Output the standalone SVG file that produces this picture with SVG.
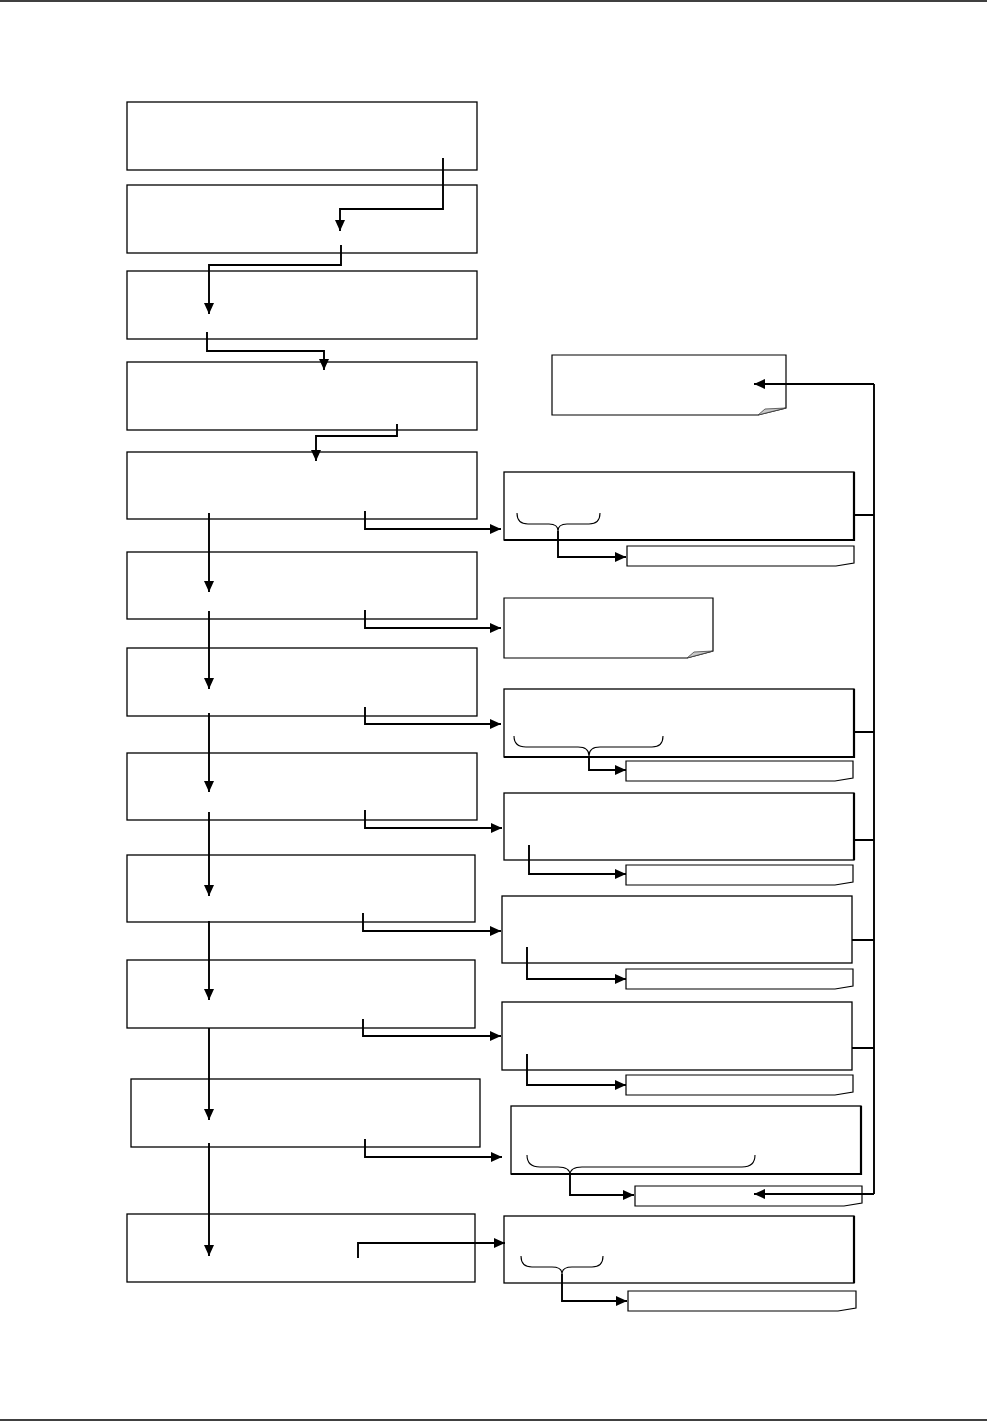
<svg xmlns="http://www.w3.org/2000/svg" width="1005" height="1422" viewBox="0 0 1005 1422">
<style>
.box{fill:#fff;stroke:#000;stroke-width:1.3}
.note{fill:#fff;stroke:#000;stroke-width:1.2}
.shadow{fill:none;stroke:#000;stroke-width:2.2}
.fold{fill:#c8c8c8;stroke:#444;stroke-width:0.8}
.brace{fill:none;stroke:#000;stroke-width:1.1}
.conn{fill:none;stroke:#000;stroke-width:1.9}
.page{stroke:#000;stroke-width:1.6}
</style>
<defs>
<marker id="ah" markerUnits="userSpaceOnUse" markerWidth="13" markerHeight="11" refX="11" refY="5" orient="auto">
<path d="M0,0 L11,5 L0,10 Z" fill="#000"/>
</marker>
</defs>
<line class="page" x1="0" y1="1" x2="987" y2="1"/>
<line class="page" x1="0" y1="1420" x2="987" y2="1420"/>

<g id="left-nodes">
<g id="L1"><rect class="box" x="127" y="102" width="350" height="68"/></g>
<g id="L2"><rect class="box" x="127" y="185" width="350" height="68"/></g>
<g id="L3"><rect class="box" x="127" y="271" width="350" height="68"/></g>
<g id="L4"><rect class="box" x="127" y="362" width="350" height="68"/></g>
<g id="L5"><rect class="box" x="127" y="452" width="350" height="67"/></g>
<g id="L6"><rect class="box" x="127" y="552" width="350" height="67"/></g>
<g id="L7"><rect class="box" x="127" y="648" width="350" height="68"/></g>
<g id="L8"><rect class="box" x="127" y="753" width="350" height="67"/></g>
<g id="L9"><rect class="box" x="127" y="855" width="348" height="67"/></g>
<g id="L10"><rect class="box" x="127" y="960" width="348" height="68"/></g>
<g id="L11"><rect class="box" x="131" y="1079" width="349" height="68"/></g>
<g id="L12"><rect class="box" x="127" y="1214" width="348" height="68"/></g>
</g>

<g id="right-nodes">
<g id="N1">
<path class="note" d="M552,355 H786 V408 L758,415 H552 Z"/>
<path class="fold" d="M758,415 L765,409 L786,408 Z"/>
</g>
<g id="R1"><rect class="box" x="504" y="472" width="350" height="68"/><path class="shadow" d="M854,472 V540 H504"/>
<path class="brace" d="M517,513 Q517,524 528,524 H549 Q558,524 558,531 Q558,524 567,524 H589 Q600,524 600,513"/></g>
<g id="S1"><path class="note" d="M627,546 H854 V563 L836,566 H627 Z"/></g>
<g id="N2">
<path class="note" d="M504,598 H713 V651 L687,658 H504 Z"/>
<path class="fold" d="M687,658 L694,652 L713,651 Z"/>
</g>
<g id="R3"><rect class="box" x="504" y="689" width="350" height="68"/><path class="shadow" d="M854,689 V757 H504"/>
<path class="brace" d="M514,736 Q514,747 526,747 H578 Q589,747 589,756 Q589,747 600,747 H652 Q663,747 663,736"/></g>
<g id="S3"><path class="note" d="M626,761 H853 V778 L835,781 H626 Z"/></g>
<g id="R4"><rect class="box" x="504" y="793" width="350" height="67"/><path class="shadow" d="M854,793 V860"/></g>
<g id="S4"><path class="note" d="M626,865 H853 V882 L835,885 H626 Z"/></g>
<g id="R5"><rect class="box" x="502" y="896" width="350" height="67"/></g>
<g id="S5"><path class="note" d="M626,969 H853 V986 L835,989 H626 Z"/></g>
<g id="R6"><rect class="box" x="502" y="1002" width="350" height="68"/></g>
<g id="S6"><path class="note" d="M626,1075 H853 V1092 L835,1095 H626 Z"/></g>
<g id="R7"><rect class="box" x="511" y="1106" width="350" height="68"/><path class="shadow" d="M861,1106 V1174 H511"/>
<path class="brace" d="M527,1155 Q527,1167 540,1167 H558 Q570,1167 570,1175 Q570,1167 582,1167 H742 Q755,1167 755,1155"/></g>
<g id="S7"><path class="note" d="M635,1186 H862 V1203 L844,1206 H635 Z"/></g>
<g id="R8"><rect class="box" x="504" y="1216" width="350" height="67"/><path class="shadow" d="M854,1216 V1283"/>
<path class="brace" d="M521,1256 Q521,1267 532,1267 H552 Q562,1267 562,1274 Q562,1267 572,1267 H592 Q603,1267 603,1256"/></g>
<g id="S8"><path class="note" d="M628,1291 H856 V1308 L838,1311 H628 Z"/></g>
</g>

<g id="connectors">
<path class="conn" marker-end="url(#ah)" d="M443,158 V209 H340 V231"/>
<path class="conn" marker-end="url(#ah)" d="M341,245 V265 H209 V314"/>
<path class="conn" marker-end="url(#ah)" d="M207,332 V351 H324 V370"/>
<path class="conn" marker-end="url(#ah)" d="M397,424 V436 H316 V461"/>
<path class="conn" marker-end="url(#ah)" d="M209,513 V592"/>
<path class="conn" marker-end="url(#ah)" d="M209,611 V689"/>
<path class="conn" marker-end="url(#ah)" d="M209,713 V792"/>
<path class="conn" marker-end="url(#ah)" d="M209,812 V896"/>
<path class="conn" marker-end="url(#ah)" d="M209,921 V1000"/>
<path class="conn" marker-end="url(#ah)" d="M209,1028 V1120"/>
<path class="conn" marker-end="url(#ah)" d="M209,1143 V1256"/>
<path class="conn" marker-end="url(#ah)" d="M365,511 V529 H501"/>
<path class="conn" marker-end="url(#ah)" d="M365,610 V628 H501"/>
<path class="conn" marker-end="url(#ah)" d="M365,707 V724 H501"/>
<path class="conn" marker-end="url(#ah)" d="M365,810 V828 H502"/>
<path class="conn" marker-end="url(#ah)" d="M363,913 V931 H501"/>
<path class="conn" marker-end="url(#ah)" d="M363,1019 V1036 H501"/>
<path class="conn" marker-end="url(#ah)" d="M365,1139 V1157 H502"/>
<path class="conn" marker-end="url(#ah)" d="M358,1258 V1243 H505"/>
<path class="conn" marker-end="url(#ah)" d="M558,531 V557 H626"/>
<path class="conn" marker-end="url(#ah)" d="M589,756 V770 H626"/>
<path class="conn" marker-end="url(#ah)" d="M529,845 V874 H626"/>
<path class="conn" marker-end="url(#ah)" d="M527,947 V979 H626"/>
<path class="conn" marker-end="url(#ah)" d="M527,1054 V1085 H626"/>
<path class="conn" marker-end="url(#ah)" d="M570,1175 V1195 H634"/>
<path class="conn" marker-end="url(#ah)" d="M562,1274 V1301 H627"/>
<path class="conn" d="M874,384 V1194"/>
<path class="conn" marker-end="url(#ah)" d="M874,384 H754"/>
<path class="conn" marker-end="url(#ah)" d="M874,1194 H754"/>
<path class="conn" d="M854,515 H874 M854,732 H874 M854,840 H874 M852,940 H874 M852,1048 H874"/>
</g>
</svg>
